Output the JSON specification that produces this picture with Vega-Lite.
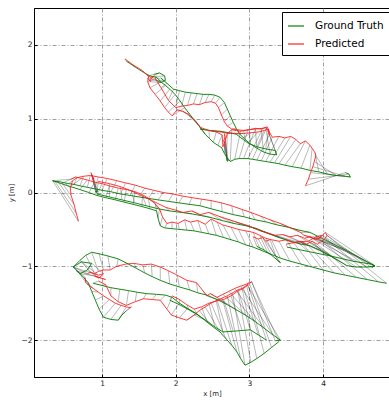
{
"$schema": "https://vega.github.io/schema/vega-lite/v6.json",
"width": 356, "height": 369,
"autosize": {"type": "none"},
"padding": {"left": 34, "top": 8, "right": 0, "bottom": 24},
"config": {
 "font": "DejaVu Sans",
 "view": {"stroke": "black", "strokeWidth": 1},
 "axis": {"grid": true, "gridColor": "#777", "gridDash": [4, 2, 1, 2], "gridWidth": 0.7, "domain": true, "domainColor": "black", "domainWidth": 1, "tickColor": "black", "tickSize": -3, "labelFont": "DejaVu Sans", "labelFontSize": 7.5, "labelColor": "#222", "titleFont": "DejaVu Sans", "titleFontSize": 7, "titleFontWeight": "normal", "titleColor": "#222"}
},
"data": {"values": [
{"s":"A1","i":0,"gx":1.33,"gy":1.78,"px":1.31,"py":1.81},
{"s":"A1","i":1,"gx":1.45,"gy":1.70,"px":1.42,"py":1.73},
{"s":"A1","i":2,"gx":1.56,"gy":1.63,"px":1.55,"py":1.65},
{"s":"A1","i":3,"gx":1.65,"gy":1.58,"px":1.63,"py":1.57},
{"s":"A1","i":4,"gx":1.74,"gy":1.56,"px":1.62,"py":1.50},
{"s":"A1","i":5,"gx":1.80,"gy":1.50,"px":1.65,"py":1.42},
{"s":"A1","i":6,"gx":1.86,"gy":1.45,"px":1.72,"py":1.33},
{"s":"A1","i":7,"gx":1.92,"gy":1.40,"px":1.79,"py":1.24},
{"s":"A1","i":8,"gx":1.99,"gy":1.33,"px":1.85,"py":1.15},
{"s":"A1","i":9,"gx":2.06,"gy":1.24,"px":1.90,"py":1.09},
{"s":"A1","i":10,"gx":2.12,"gy":1.15,"px":1.95,"py":1.04},
{"s":"A1","i":11,"gx":2.19,"gy":1.06,"px":2.02,"py":1.12},
{"s":"A1","i":12,"gx":2.25,"gy":0.98,"px":2.10,"py":1.10},
{"s":"A1","i":13,"gx":2.31,"gy":0.91,"px":2.18,"py":1.05},
{"s":"A1","i":14,"gx":2.36,"gy":0.84,"px":2.26,"py":0.98},
{"s":"A1","i":15,"gx":2.40,"gy":0.79,"px":2.34,"py":0.88},
{"s":"A1","i":16,"gx":2.46,"gy":0.73,"px":2.45,"py":0.84},
{"s":"A1","i":17,"gx":2.51,"gy":0.68,"px":2.55,"py":0.82},
{"s":"A1","i":18,"gx":2.57,"gy":0.64,"px":2.63,"py":0.78},
{"s":"A1","i":19,"gx":2.62,"gy":0.61,"px":2.64,"py":0.62},
{"s":"A1","i":20,"gx":2.66,"gy":0.53,"px":2.67,"py":0.70},
{"s":"A1","i":21,"gx":2.69,"gy":0.48,"px":2.70,"py":0.80},
{"s":"A1","i":22,"gx":2.74,"gy":0.42,"px":2.76,"py":0.85},
{"s":"A1","i":23,"gx":2.80,"gy":0.45,"px":2.88,"py":0.83},
{"s":"A1","i":24,"gx":2.86,"gy":0.46,"px":2.98,"py":0.85},
{"s":"A1","i":25,"gx":2.92,"gy":0.46,"px":3.08,"py":0.86},
{"s":"A1","i":26,"gx":2.98,"gy":0.46,"px":3.18,"py":0.87},
{"s":"A1","i":27,"gx":3.04,"gy":0.45,"px":3.24,"py":0.89},
{"s":"A1","i":28,"gx":3.10,"gy":0.44,"px":3.28,"py":0.80},
{"s":"A1","i":29,"gx":3.16,"gy":0.43,"px":3.31,"py":0.75},
{"s":"A1","i":30,"gx":3.22,"gy":0.42,"px":3.40,"py":0.76},
{"s":"A1","i":31,"gx":3.28,"gy":0.41,"px":3.48,"py":0.74},
{"s":"A1","i":32,"gx":3.34,"gy":0.40,"px":3.56,"py":0.76},
{"s":"A1","i":33,"gx":3.40,"gy":0.39,"px":3.63,"py":0.72},
{"s":"A1","i":34,"gx":3.48,"gy":0.37,"px":3.69,"py":0.66},
{"s":"A1","i":35,"gx":3.58,"gy":0.35,"px":3.76,"py":0.70},
{"s":"A1","i":36,"gx":3.70,"gy":0.33,"px":3.82,"py":0.64},
{"s":"A1","i":37,"gx":3.82,"gy":0.30,"px":3.85,"py":0.60},
{"s":"A1","i":38,"gx":3.94,"gy":0.28,"px":3.89,"py":0.54},
{"s":"A1","i":39,"gx":4.06,"gy":0.25,"px":3.90,"py":0.50},
{"s":"A1","i":40,"gx":4.18,"gy":0.23,"px":3.88,"py":0.42},
{"s":"A1","i":41,"gx":4.30,"gy":0.22,"px":3.86,"py":0.35},
{"s":"A1","i":42,"gx":4.37,"gy":0.21,"px":3.83,"py":0.27},
{"s":"A1","i":43,"gx":4.35,"gy":0.25,"px":3.80,"py":0.18},
{"s":"A1","i":44,"gx":4.30,"gy":0.27,"px":3.76,"py":0.09},
{"s":"A2","i":0,"gx":1.80,"gy":1.55,"px":1.72,"py":1.55},
{"s":"A2","i":1,"gx":1.88,"gy":1.48,"px":1.80,"py":1.42},
{"s":"A2","i":2,"gx":1.97,"gy":1.40,"px":1.90,"py":1.25},
{"s":"A2","i":3,"gx":2.05,"gy":1.38,"px":2.00,"py":1.15},
{"s":"A2","i":4,"gx":2.13,"gy":1.36,"px":2.08,"py":1.17},
{"s":"A2","i":5,"gx":2.21,"gy":1.35,"px":2.16,"py":1.18},
{"s":"A2","i":6,"gx":2.29,"gy":1.34,"px":2.24,"py":1.20},
{"s":"A2","i":7,"gx":2.37,"gy":1.33,"px":2.32,"py":1.19},
{"s":"A2","i":8,"gx":2.45,"gy":1.33,"px":2.40,"py":1.22},
{"s":"A2","i":9,"gx":2.53,"gy":1.32,"px":2.48,"py":1.23},
{"s":"A2","i":10,"gx":2.60,"gy":1.29,"px":2.54,"py":1.21},
{"s":"A2","i":11,"gx":2.66,"gy":1.22,"px":2.58,"py":1.15},
{"s":"A2","i":12,"gx":2.70,"gy":1.13,"px":2.62,"py":1.05},
{"s":"A2","i":13,"gx":2.74,"gy":1.04,"px":2.66,"py":0.96},
{"s":"A2","i":14,"gx":2.78,"gy":0.95,"px":2.70,"py":0.90},
{"s":"A2","i":15,"gx":2.82,"gy":0.87,"px":2.76,"py":0.86},
{"s":"A2","i":16,"gx":2.87,"gy":0.79,"px":2.84,"py":0.85},
{"s":"A2","i":17,"gx":2.94,"gy":0.72,"px":2.92,"py":0.84},
{"s":"A2","i":18,"gx":3.01,"gy":0.66,"px":3.00,"py":0.85},
{"s":"A2","i":19,"gx":3.10,"gy":0.60,"px":3.08,"py":0.87},
{"s":"A2","i":20,"gx":3.19,"gy":0.55,"px":3.16,"py":0.86},
{"s":"A2","i":21,"gx":3.28,"gy":0.52,"px":3.22,"py":0.88},
{"s":"A2","i":22,"gx":3.37,"gy":0.51,"px":3.25,"py":0.84},
{"s":"A2","i":23,"gx":3.35,"gy":0.57,"px":3.27,"py":0.78},
{"s":"A2","i":24,"gx":3.22,"gy":0.59,"px":3.26,"py":0.86},
{"s":"A2","i":25,"gx":3.10,"gy":0.62,"px":3.20,"py":0.84},
{"s":"A2","i":26,"gx":2.98,"gy":0.67,"px":3.12,"py":0.82},
{"s":"A2","i":27,"gx":2.90,"gy":0.73,"px":3.02,"py":0.81},
{"s":"A2","i":28,"gx":2.82,"gy":0.79,"px":2.92,"py":0.80},
{"s":"A2","i":29,"gx":2.72,"gy":0.81,"px":2.82,"py":0.80},
{"s":"A2","i":30,"gx":2.60,"gy":0.83,"px":2.72,"py":0.80},
{"s":"A2","i":31,"gx":2.47,"gy":0.84,"px":2.62,"py":0.82},
{"s":"A2","i":32,"gx":2.33,"gy":0.86,"px":2.50,"py":0.83},
{"s":"A3","i":0,"gx":2.70,"gy":0.44,"px":2.66,"py":0.80},
{"s":"A3","i":1,"gx":2.71,"gy":0.43,"px":2.67,"py":0.75},
{"s":"A3","i":2,"gx":2.70,"gy":0.45,"px":2.65,"py":0.70},
{"s":"A3","i":3,"gx":2.69,"gy":0.47,"px":2.67,"py":0.66},
{"s":"A3","i":4,"gx":2.70,"gy":0.42,"px":2.66,"py":0.62},
{"s":"A4","i":0,"gx":1.70,"gy":1.60,"px":1.62,"py":1.58},
{"s":"A4","i":1,"gx":1.78,"gy":1.62,"px":1.66,"py":1.56},
{"s":"A4","i":2,"gx":1.85,"gy":1.58,"px":1.70,"py":1.57},
{"s":"A4","i":3,"gx":1.86,"gy":1.52,"px":1.64,"py":1.52},
{"s":"A4","i":4,"gx":1.80,"gy":1.49,"px":1.66,"py":1.50},
{"s":"A4","i":5,"gx":1.72,"gy":1.53,"px":1.62,"py":1.55},
{"s":"M2","i":0,"gx":0.33,"gy":0.16,"px":0.68,"py":-0.39},
{"s":"M2","i":1,"gx":0.36,"gy":0.15,"px":0.65,"py":-0.28},
{"s":"M2","i":2,"gx":0.40,"gy":0.15,"px":0.62,"py":-0.16},
{"s":"M2","i":3,"gx":0.45,"gy":0.14,"px":0.58,"py":-0.04},
{"s":"M2","i":4,"gx":0.50,"gy":0.13,"px":0.57,"py":0.06},
{"s":"M2","i":5,"gx":0.55,"gy":0.12,"px":0.60,"py":0.16},
{"s":"M2","i":6,"gx":0.62,"gy":0.11,"px":0.66,"py":0.20},
{"s":"M2","i":7,"gx":0.70,"gy":0.09,"px":0.75,"py":0.22},
{"s":"M2","i":8,"gx":0.80,"gy":0.07,"px":0.84,"py":0.23},
{"s":"M2","i":9,"gx":0.90,"gy":0.05,"px":0.95,"py":0.21},
{"s":"M2","i":10,"gx":1.00,"gy":0.03,"px":1.07,"py":0.19},
{"s":"M2","i":11,"gx":1.12,"gy":0.01,"px":1.20,"py":0.16},
{"s":"M2","i":12,"gx":1.25,"gy":-0.02,"px":1.32,"py":0.13},
{"s":"M2","i":13,"gx":1.38,"gy":-0.04,"px":1.45,"py":0.10},
{"s":"M2","i":14,"gx":1.50,"gy":-0.06,"px":1.58,"py":0.06},
{"s":"M2","i":15,"gx":1.63,"gy":-0.08,"px":1.70,"py":0.03},
{"s":"M2","i":16,"gx":1.76,"gy":-0.10,"px":1.83,"py":0.00},
{"s":"M2","i":17,"gx":1.90,"gy":-0.12,"px":1.96,"py":-0.02},
{"s":"M2","i":18,"gx":2.04,"gy":-0.14,"px":2.10,"py":-0.05},
{"s":"M2","i":19,"gx":2.18,"gy":-0.16,"px":2.22,"py":-0.07},
{"s":"M2","i":20,"gx":2.33,"gy":-0.18,"px":2.35,"py":-0.09},
{"s":"M2","i":21,"gx":2.48,"gy":-0.22,"px":2.48,"py":-0.11},
{"s":"M2","i":22,"gx":2.63,"gy":-0.26,"px":2.62,"py":-0.14},
{"s":"M2","i":23,"gx":2.78,"gy":-0.30,"px":2.76,"py":-0.18},
{"s":"M2","i":24,"gx":2.93,"gy":-0.33,"px":2.90,"py":-0.23},
{"s":"M2","i":25,"gx":3.08,"gy":-0.37,"px":3.02,"py":-0.27},
{"s":"M2","i":26,"gx":3.23,"gy":-0.40,"px":3.15,"py":-0.32},
{"s":"M2","i":27,"gx":3.38,"gy":-0.44,"px":3.28,"py":-0.37},
{"s":"M2","i":28,"gx":3.52,"gy":-0.47,"px":3.42,"py":-0.42},
{"s":"M2","i":29,"gx":3.67,"gy":-0.51,"px":3.56,"py":-0.48},
{"s":"M2","i":30,"gx":3.82,"gy":-0.54,"px":3.69,"py":-0.54},
{"s":"M2","i":31,"gx":3.98,"gy":-0.62,"px":3.74,"py":-0.58},
{"s":"M2","i":32,"gx":4.14,"gy":-0.70,"px":3.80,"py":-0.60},
{"s":"M2","i":33,"gx":4.30,"gy":-0.78,"px":3.86,"py":-0.62},
{"s":"M2","i":34,"gx":4.45,"gy":-0.86,"px":3.92,"py":-0.63},
{"s":"M2","i":35,"gx":4.58,"gy":-0.93,"px":3.97,"py":-0.60},
{"s":"M2","i":36,"gx":4.70,"gy":-0.99,"px":4.03,"py":-0.54},
{"s":"M2","i":37,"gx":4.66,"gy":-1.02,"px":4.05,"py":-0.58},
{"s":"M1","i":0,"gx":0.33,"gy":0.16,"px":0.58,"py":0.18},
{"s":"M1","i":1,"gx":0.45,"gy":0.12,"px":0.64,"py":0.21},
{"s":"M1","i":2,"gx":0.57,"gy":0.08,"px":0.72,"py":0.19},
{"s":"M1","i":3,"gx":0.70,"gy":0.04,"px":0.80,"py":0.17},
{"s":"M1","i":4,"gx":0.82,"gy":0.00,"px":0.90,"py":0.14},
{"s":"M1","i":5,"gx":0.93,"gy":-0.04,"px":1.00,"py":0.12},
{"s":"M1","i":6,"gx":1.05,"gy":-0.07,"px":1.10,"py":0.09},
{"s":"M1","i":7,"gx":1.18,"gy":-0.10,"px":1.22,"py":0.06},
{"s":"M1","i":8,"gx":1.30,"gy":-0.13,"px":1.33,"py":0.04},
{"s":"M1","i":9,"gx":1.42,"gy":-0.16,"px":1.45,"py":0.01},
{"s":"M1","i":10,"gx":1.54,"gy":-0.19,"px":1.55,"py":-0.03},
{"s":"M1","i":11,"gx":1.65,"gy":-0.22,"px":1.63,"py":-0.08},
{"s":"M1","i":12,"gx":1.74,"gy":-0.25,"px":1.72,"py":-0.15},
{"s":"M1","i":13,"gx":1.76,"gy":-0.35,"px":1.78,"py":-0.22},
{"s":"M1","i":14,"gx":1.79,"gy":-0.45,"px":1.82,"py":-0.33},
{"s":"M1","i":15,"gx":1.85,"gy":-0.48,"px":1.88,"py":-0.42},
{"s":"M1","i":16,"gx":1.95,"gy":-0.49,"px":1.95,"py":-0.40},
{"s":"M1","i":17,"gx":2.05,"gy":-0.50,"px":2.03,"py":-0.42},
{"s":"M1","i":18,"gx":2.15,"gy":-0.51,"px":2.12,"py":-0.37},
{"s":"M1","i":19,"gx":2.25,"gy":-0.52,"px":2.20,"py":-0.40},
{"s":"M1","i":20,"gx":2.35,"gy":-0.54,"px":2.30,"py":-0.38},
{"s":"M1","i":21,"gx":2.45,"gy":-0.56,"px":2.40,"py":-0.43},
{"s":"M1","i":22,"gx":2.55,"gy":-0.58,"px":2.48,"py":-0.36},
{"s":"M1","i":23,"gx":2.65,"gy":-0.61,"px":2.56,"py":-0.40},
{"s":"M1","i":24,"gx":2.75,"gy":-0.64,"px":2.64,"py":-0.44},
{"s":"M1","i":25,"gx":2.85,"gy":-0.67,"px":2.75,"py":-0.47},
{"s":"M1","i":26,"gx":2.95,"gy":-0.71,"px":2.85,"py":-0.50},
{"s":"M1","i":27,"gx":3.05,"gy":-0.74,"px":2.95,"py":-0.52},
{"s":"M1","i":28,"gx":3.15,"gy":-0.78,"px":3.05,"py":-0.54},
{"s":"M1","i":29,"gx":3.25,"gy":-0.82,"px":3.14,"py":-0.58},
{"s":"M1","i":30,"gx":3.35,"gy":-0.86,"px":3.22,"py":-0.62},
{"s":"M1","i":31,"gx":3.42,"gy":-0.89,"px":3.30,"py":-0.64},
{"s":"M1","i":32,"gx":3.55,"gy":-0.93,"px":3.40,"py":-0.66},
{"s":"M1","i":33,"gx":3.70,"gy":-0.97,"px":3.50,"py":-0.64},
{"s":"M1","i":34,"gx":3.85,"gy":-1.01,"px":3.60,"py":-0.68},
{"s":"M1","i":35,"gx":4.00,"gy":-1.05,"px":3.70,"py":-0.66},
{"s":"M1","i":36,"gx":4.15,"gy":-1.09,"px":3.78,"py":-0.70},
{"s":"M1","i":37,"gx":4.30,"gy":-1.12,"px":3.85,"py":-0.66},
{"s":"M1","i":38,"gx":4.45,"gy":-1.15,"px":3.92,"py":-0.70},
{"s":"M1","i":39,"gx":4.60,"gy":-1.18,"px":3.98,"py":-0.66},
{"s":"M1","i":40,"gx":4.75,"gy":-1.21,"px":4.03,"py":-0.62},
{"s":"M1","i":41,"gx":4.86,"gy":-1.23,"px":4.05,"py":-0.58},
{"s":"M3","i":0,"gx":0.93,"gy":-0.02,"px":0.95,"py":0.15},
{"s":"M3","i":1,"gx":1.10,"gy":-0.06,"px":1.10,"py":0.12},
{"s":"M3","i":2,"gx":1.27,"gy":-0.10,"px":1.25,"py":0.08},
{"s":"M3","i":3,"gx":1.44,"gy":-0.14,"px":1.40,"py":0.02},
{"s":"M3","i":4,"gx":1.60,"gy":-0.18,"px":1.55,"py":-0.05},
{"s":"M3","i":5,"gx":1.76,"gy":-0.22,"px":1.70,"py":-0.12},
{"s":"M3","i":6,"gx":1.92,"gy":-0.25,"px":1.86,"py":-0.20},
{"s":"M3","i":7,"gx":2.08,"gy":-0.27,"px":2.00,"py":-0.24},
{"s":"M3","i":8,"gx":2.22,"gy":-0.29,"px":2.10,"py":-0.27},
{"s":"M3","i":9,"gx":2.33,"gy":-0.31,"px":2.22,"py":-0.25},
{"s":"M3","i":10,"gx":2.48,"gy":-0.34,"px":2.33,"py":-0.30},
{"s":"M3","i":11,"gx":2.63,"gy":-0.38,"px":2.45,"py":-0.27},
{"s":"M3","i":12,"gx":2.79,"gy":-0.42,"px":2.58,"py":-0.32},
{"s":"M3","i":13,"gx":2.95,"gy":-0.45,"px":2.70,"py":-0.36},
{"s":"M3","i":14,"gx":3.10,"gy":-0.49,"px":2.82,"py":-0.40},
{"s":"M3","i":15,"gx":3.25,"gy":-0.55,"px":2.95,"py":-0.44},
{"s":"M3","i":16,"gx":3.40,"gy":-0.61,"px":3.05,"py":-0.48},
{"s":"M3","i":17,"gx":3.55,"gy":-0.66,"px":3.15,"py":-0.52},
{"s":"M3","i":18,"gx":3.70,"gy":-0.70,"px":3.25,"py":-0.55},
{"s":"M3","i":19,"gx":3.82,"gy":-0.72,"px":3.35,"py":-0.58},
{"s":"M3","i":20,"gx":3.95,"gy":-0.78,"px":3.45,"py":-0.57},
{"s":"M3","i":21,"gx":4.08,"gy":-0.85,"px":3.55,"py":-0.60},
{"s":"M3","i":22,"gx":4.20,"gy":-0.92,"px":3.65,"py":-0.58},
{"s":"M3","i":23,"gx":4.32,"gy":-0.99,"px":3.75,"py":-0.62},
{"s":"M3","i":24,"gx":4.45,"gy":-1.01,"px":3.82,"py":-0.60},
{"s":"M3","i":25,"gx":4.60,"gy":-1.01,"px":3.88,"py":-0.63},
{"s":"M3","i":26,"gx":4.70,"gy":-1.00,"px":3.95,"py":-0.62},
{"s":"M3","i":27,"gx":4.65,"gy":-0.97,"px":3.98,"py":-0.58},
{"s":"M3","i":28,"gx":4.40,"gy":-0.93,"px":3.90,"py":-0.60},
{"s":"M3","i":29,"gx":4.10,"gy":-0.86,"px":3.80,"py":-0.66},
{"s":"M3","i":30,"gx":3.80,"gy":-0.80,"px":3.65,"py":-0.67},
{"s":"M3","i":31,"gx":3.51,"gy":-0.74,"px":3.50,"py":-0.70},
{"s":"M4","i":0,"gx":3.10,"gy":-0.73,"px":3.05,"py":-0.60},
{"s":"M4","i":1,"gx":3.20,"gy":-0.78,"px":3.12,"py":-0.63},
{"s":"M4","i":2,"gx":3.30,"gy":-0.85,"px":3.18,"py":-0.61},
{"s":"M4","i":3,"gx":3.42,"gy":-0.95,"px":3.22,"py":-0.66},
{"s":"M4","i":4,"gx":3.38,"gy":-0.92,"px":3.28,"py":-0.64},
{"s":"M5","i":0,"gx":0.93,"gy":-0.01,"px":0.85,"py":0.27},
{"s":"M5","i":1,"gx":0.92,"gy":0.00,"px":0.87,"py":0.22},
{"s":"M5","i":2,"gx":0.94,"gy":0.02,"px":0.89,"py":0.18},
{"s":"M5","i":3,"gx":0.91,"gy":0.01,"px":0.86,"py":0.24},
{"s":"M5","i":4,"gx":0.93,"gy":0.03,"px":0.90,"py":0.12},
{"s":"B1","i":0,"gx":0.61,"gy":-1.01,"px":0.80,"py":-1.10},
{"s":"B1","i":1,"gx":0.70,"gy":-0.92,"px":0.85,"py":-1.08},
{"s":"B1","i":2,"gx":0.78,"gy":-0.85,"px":0.90,"py":-1.10},
{"s":"B1","i":3,"gx":0.86,"gy":-0.81,"px":0.95,"py":-1.07},
{"s":"B1","i":4,"gx":0.96,"gy":-0.83,"px":1.02,"py":-1.05},
{"s":"B1","i":5,"gx":1.08,"gy":-0.86,"px":1.11,"py":-1.05},
{"s":"B1","i":6,"gx":1.22,"gy":-0.90,"px":1.20,"py":-1.00},
{"s":"B1","i":7,"gx":1.34,"gy":-0.96,"px":1.32,"py":-0.97},
{"s":"B1","i":8,"gx":1.47,"gy":-1.03,"px":1.43,"py":-0.96},
{"s":"B1","i":9,"gx":1.58,"gy":-1.09,"px":1.55,"py":-0.98},
{"s":"B1","i":10,"gx":1.68,"gy":-1.14,"px":1.67,"py":-0.97},
{"s":"B1","i":11,"gx":1.79,"gy":-1.19,"px":1.79,"py":-1.01},
{"s":"B1","i":12,"gx":1.92,"gy":-1.24,"px":1.90,"py":-1.06},
{"s":"B1","i":13,"gx":2.05,"gy":-1.28,"px":2.02,"py":-1.12},
{"s":"B1","i":14,"gx":2.19,"gy":-1.32,"px":2.15,"py":-1.19},
{"s":"B1","i":15,"gx":2.30,"gy":-1.36,"px":2.28,"py":-1.22},
{"s":"B1","i":16,"gx":2.42,"gy":-1.39,"px":2.36,"py":-1.32},
{"s":"B1","i":17,"gx":2.56,"gy":-1.45,"px":2.42,"py":-1.40},
{"s":"B1","i":18,"gx":2.70,"gy":-1.52,"px":2.47,"py":-1.37},
{"s":"B1","i":19,"gx":2.84,"gy":-1.60,"px":2.56,"py":-1.42},
{"s":"B1","i":20,"gx":2.96,"gy":-1.67,"px":2.64,"py":-1.38},
{"s":"B1","i":21,"gx":3.08,"gy":-1.75,"px":2.72,"py":-1.34},
{"s":"B1","i":22,"gx":3.20,"gy":-1.84,"px":2.80,"py":-1.30},
{"s":"B1","i":23,"gx":3.32,"gy":-1.93,"px":2.88,"py":-1.27},
{"s":"B1","i":24,"gx":3.42,"gy":-2.00,"px":2.96,"py":-1.24},
{"s":"B1","i":25,"gx":3.35,"gy":-2.01,"px":3.03,"py":-1.21},
{"s":"B2","i":0,"gx":0.61,"gy":-1.01,"px":0.77,"py":-1.15},
{"s":"B2","i":1,"gx":0.68,"gy":-1.08,"px":0.78,"py":-1.22},
{"s":"B2","i":2,"gx":0.75,"gy":-1.15,"px":0.82,"py":-1.26},
{"s":"B2","i":3,"gx":0.81,"gy":-1.22,"px":0.88,"py":-1.30},
{"s":"B2","i":4,"gx":0.86,"gy":-1.34,"px":0.95,"py":-1.35},
{"s":"B2","i":5,"gx":0.91,"gy":-1.46,"px":1.02,"py":-1.40},
{"s":"B2","i":6,"gx":0.96,"gy":-1.58,"px":1.10,"py":-1.45},
{"s":"B2","i":7,"gx":1.02,"gy":-1.69,"px":1.18,"py":-1.50},
{"s":"B2","i":8,"gx":1.12,"gy":-1.72,"px":1.26,"py":-1.53},
{"s":"B2","i":9,"gx":1.22,"gy":-1.73,"px":1.33,"py":-1.55},
{"s":"B2","i":10,"gx":1.27,"gy":-1.66,"px":1.38,"py":-1.56},
{"s":"B2","i":11,"gx":1.32,"gy":-1.61,"px":1.40,"py":-1.55},
{"s":"B3","i":0,"gx":0.88,"gy":-1.23,"px":0.95,"py":-1.20},
{"s":"B3","i":1,"gx":1.00,"gy":-1.26,"px":1.05,"py":-1.25},
{"s":"B3","i":2,"gx":1.12,"gy":-1.29,"px":1.12,"py":-1.40},
{"s":"B3","i":3,"gx":1.24,"gy":-1.31,"px":1.22,"py":-1.48},
{"s":"B3","i":4,"gx":1.36,"gy":-1.33,"px":1.33,"py":-1.53},
{"s":"B3","i":5,"gx":1.47,"gy":-1.35,"px":1.45,"py":-1.48},
{"s":"B3","i":6,"gx":1.60,"gy":-1.37,"px":1.56,"py":-1.44},
{"s":"B3","i":7,"gx":1.74,"gy":-1.38,"px":1.68,"py":-1.45},
{"s":"B3","i":8,"gx":1.86,"gy":-1.39,"px":1.79,"py":-1.46},
{"s":"B3","i":9,"gx":1.95,"gy":-1.42,"px":1.88,"py":-1.58},
{"s":"B3","i":10,"gx":2.05,"gy":-1.50,"px":1.94,"py":-1.66},
{"s":"B3","i":11,"gx":2.16,"gy":-1.57,"px":2.05,"py":-1.70},
{"s":"B3","i":12,"gx":2.28,"gy":-1.64,"px":2.15,"py":-1.73},
{"s":"B3","i":13,"gx":2.38,"gy":-1.72,"px":2.25,"py":-1.66},
{"s":"B3","i":14,"gx":2.48,"gy":-1.80,"px":2.32,"py":-1.60},
{"s":"B3","i":15,"gx":2.60,"gy":-1.89,"px":2.40,"py":-1.55},
{"s":"B3","i":16,"gx":2.68,"gy":-1.98,"px":2.48,"py":-1.50},
{"s":"B3","i":17,"gx":2.76,"gy":-2.07,"px":2.56,"py":-1.46},
{"s":"B3","i":18,"gx":2.83,"gy":-2.16,"px":2.63,"py":-1.43},
{"s":"B3","i":19,"gx":2.88,"gy":-2.25,"px":2.70,"py":-1.40},
{"s":"B3","i":20,"gx":2.94,"gy":-2.34,"px":2.77,"py":-1.36},
{"s":"B3","i":21,"gx":3.02,"gy":-2.30,"px":2.84,"py":-1.32},
{"s":"B3","i":22,"gx":3.10,"gy":-2.25,"px":2.90,"py":-1.30},
{"s":"B3","i":23,"gx":3.20,"gy":-2.18,"px":2.96,"py":-1.26},
{"s":"B3","i":24,"gx":3.30,"gy":-2.10,"px":3.00,"py":-1.23},
{"s":"B3","i":25,"gx":3.40,"gy":-2.02,"px":3.03,"py":-1.21},
{"s":"B4","i":0,"gx":1.92,"gy":-1.46,"px":1.95,"py":-1.40},
{"s":"B4","i":1,"gx":2.05,"gy":-1.52,"px":2.05,"py":-1.45},
{"s":"B4","i":2,"gx":2.18,"gy":-1.59,"px":2.15,"py":-1.52},
{"s":"B4","i":3,"gx":2.30,"gy":-1.66,"px":2.25,"py":-1.58},
{"s":"B4","i":4,"gx":2.42,"gy":-1.74,"px":2.35,"py":-1.55},
{"s":"B4","i":5,"gx":2.53,"gy":-1.82,"px":2.45,"py":-1.50},
{"s":"B4","i":6,"gx":2.64,"gy":-1.89,"px":2.55,"py":-1.47},
{"s":"B4","i":7,"gx":2.78,"gy":-1.88,"px":2.65,"py":-1.45},
{"s":"B4","i":8,"gx":2.90,"gy":-1.87,"px":2.75,"py":-1.40},
{"s":"B4","i":9,"gx":3.01,"gy":-1.86,"px":2.85,"py":-1.33},
{"s":"B4","i":10,"gx":3.12,"gy":-1.93,"px":2.92,"py":-1.30},
{"s":"B4","i":11,"gx":3.23,"gy":-2.00,"px":2.98,"py":-1.25},
{"s":"B5","i":0,"gx":0.61,"gy":-1.01,"px":0.88,"py":-1.10},
{"s":"B5","i":1,"gx":0.72,"gy":-0.94,"px":0.95,"py":-1.12},
{"s":"B5","i":2,"gx":0.86,"gy":-0.96,"px":1.02,"py":-1.10},
{"s":"B5","i":3,"gx":0.80,"gy":-1.05,"px":0.96,"py":-1.16},
{"s":"B5","i":4,"gx":0.70,"gy":-1.10,"px":0.90,"py":-1.13},
{"s":"B5","i":5,"gx":0.65,"gy":-1.06,"px":1.05,"py":-1.18}
]},
"layer": [
 {"mark": {"type": "rule", "color": "black", "opacity": 0.4, "strokeWidth": 0.7, "clip": true},
  "encoding": {
   "x": {"field": "gx", "type": "quantitative", "title": "x [m]", "scale": {"domain": [0.077, 4.907], "nice": false, "zero": false}, "axis": {"values": [1, 2, 3, 4], "format": "d", "labelPadding": 5, "titlePadding": 3}},
   "y": {"field": "gy", "type": "quantitative", "title": "y [m]", "scale": {"domain": [-2.5, 2.5], "nice": false, "zero": false}, "axis": {"values": [-2, -1, 0, 1, 2], "format": "d", "labelPadding": 5, "titlePadding": 6}},
   "x2": {"field": "px"}, "y2": {"field": "py"}}},
 {"mark": {"type": "line", "strokeWidth": 0.9, "clip": true},
  "encoding": {
   "x": {"field": "gx", "type": "quantitative", "title": "x [m]"},
   "y": {"field": "gy", "type": "quantitative", "title": "y [m]"},
   "detail": {"field": "s"}, "order": {"field": "i"},
   "color": {"datum": "Ground Truth", "scale": {"domain": ["Ground Truth", "Predicted"], "range": ["#007a00", "#ff1a1a"]},
     "legend": {"orient": "none", "legendX": 248, "legendY": 4, "title": null, "symbolType": "stroke", "symbolSize": 256, "symbolStrokeWidth": 1.2, "labelFontSize": 10.5, "labelFont": "DejaVu Sans", "labelColor": "black", "strokeColor": "black", "fillColor": "white", "padding": 5, "rowPadding": 3, "labelOffset": 10, "cornerRadius": 0}}}},
 {"mark": {"type": "line", "strokeWidth": 0.9, "clip": true, "opacity": 0.95},
  "encoding": {
   "x": {"field": "px", "type": "quantitative", "title": "x [m]"},
   "y": {"field": "py", "type": "quantitative", "title": "y [m]"},
   "detail": {"field": "s"}, "order": {"field": "i"},
   "color": {"datum": "Predicted"}}}
]
}
